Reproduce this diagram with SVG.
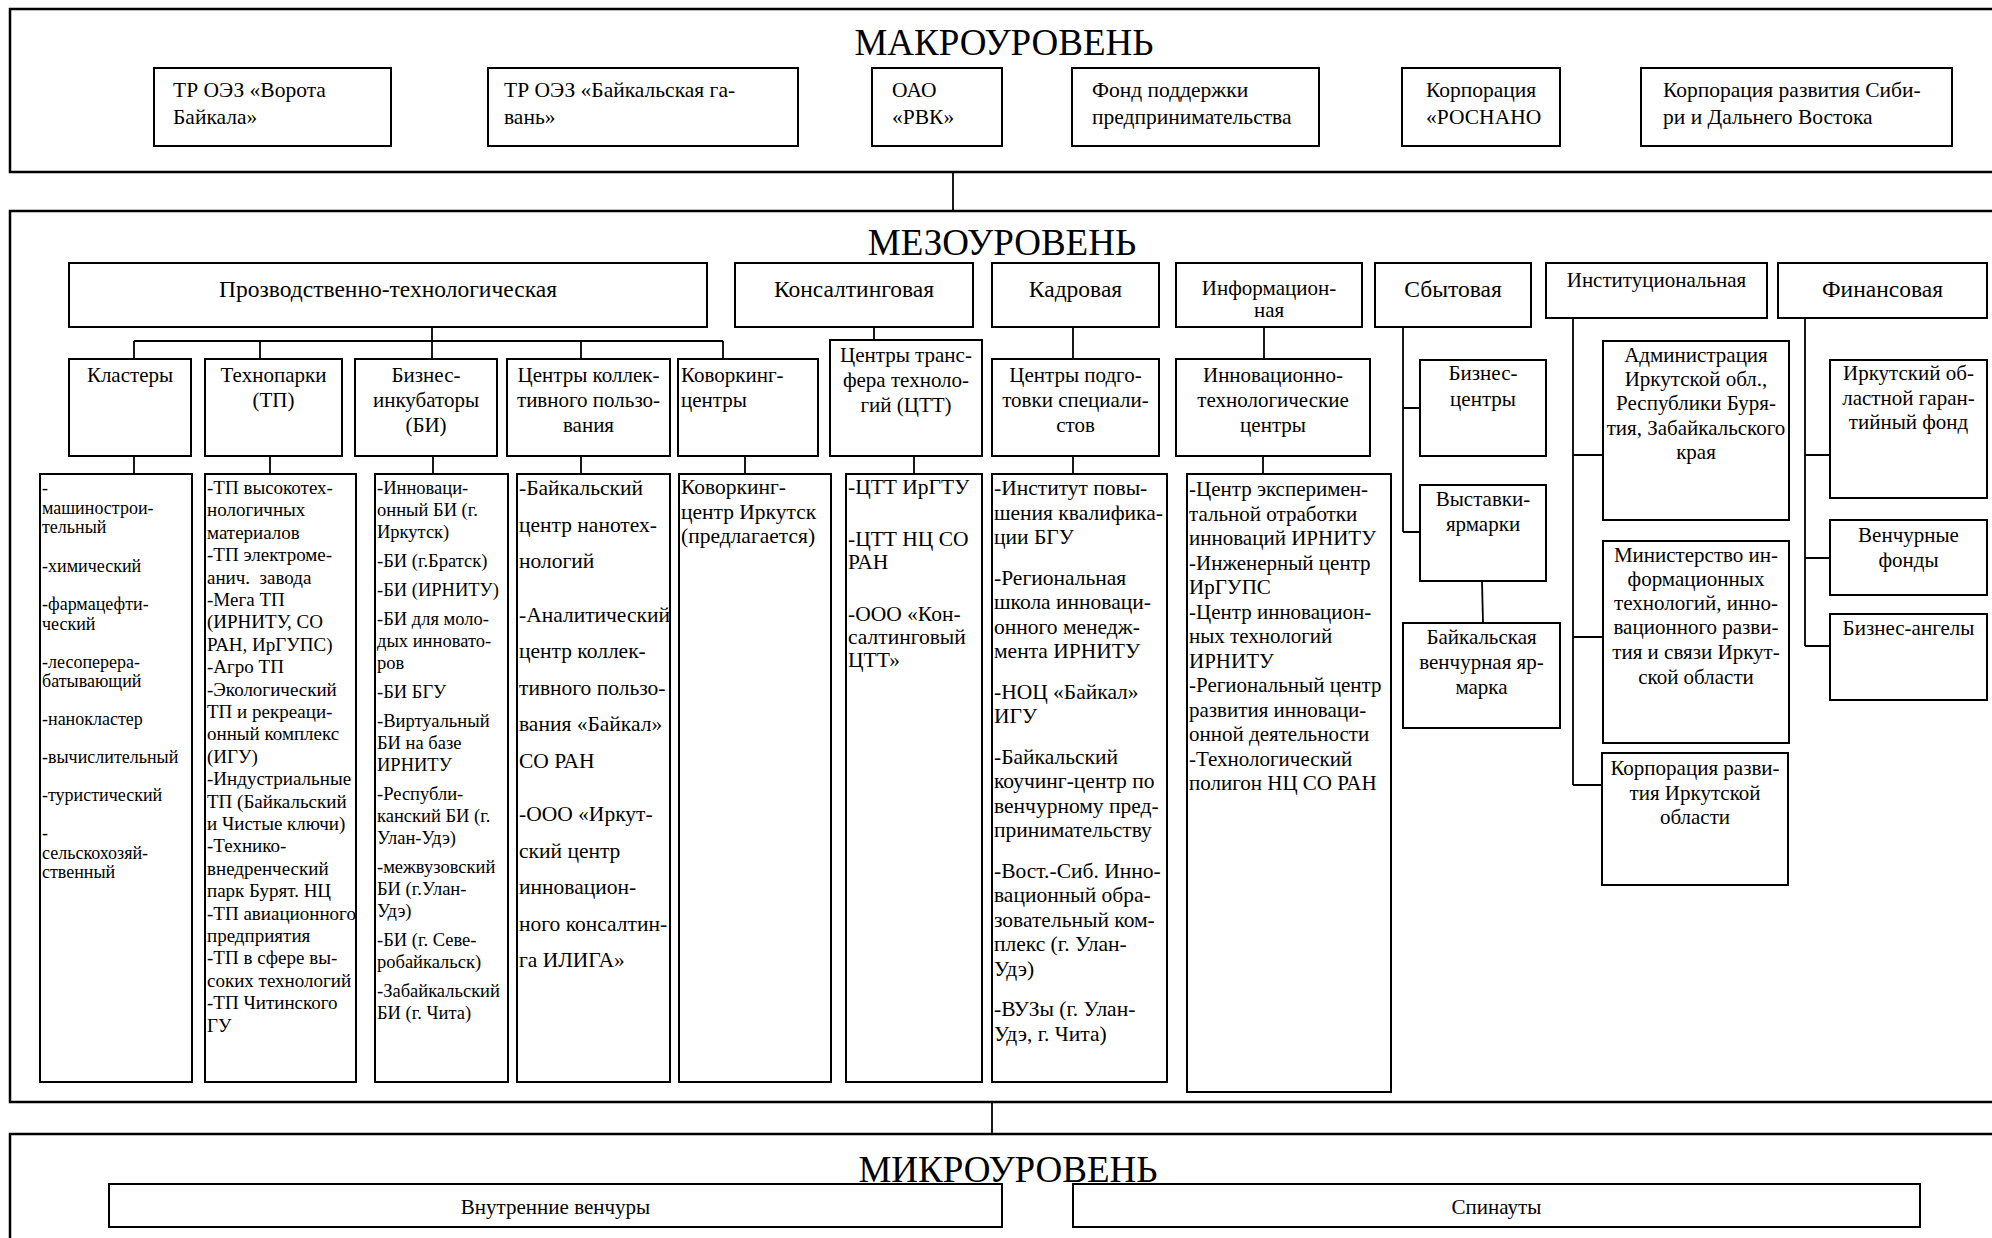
<svg xmlns="http://www.w3.org/2000/svg" width="1992" height="1238" viewBox="0 0 1992 1238">
<style>
rect{fill:none;stroke:#000;stroke-width:2}
.outer{stroke-width:2.5}
.ln{stroke:#000;stroke-width:1.8;fill:none}
text{font-family:"Liberation Serif","Times New Roman",serif;fill:#000}
.t{font-size:37px;text-anchor:middle}
.m{font-size:21.5px}
.c{font-size:23.5px;text-anchor:middle}
.h{font-size:21px;text-anchor:middle}
.hl{font-size:21px}
.l18{font-size:18px}
.l19{font-size:19px}
.l185{font-size:18.5px}
.l21{font-size:21px}
.l215{font-size:21.5px}
.mc{font-size:21px;text-anchor:middle}
</style>
<rect fill="#fff" stroke="none" x="0" y="0" width="1992" height="1238" style="fill:#fff;stroke:none"/>

<g id="connectors">
<path class="ln" d="M953 172V211"/>
<path class="ln" d="M992 1103V1134"/>
<path class="ln" d="M432 327V341M134 341H723M134 341V359M260 341V359M432 341V359M581 341V359M723 341V359"/>
<path class="ln" d="M134 456V474M270 456V474M433 456V474M581 456V474M745 456V474M914 456V474M1073 456V474M1263 456V474"/>
<path class="ln" d="M874 327V340M1073 327V359M1264 327V359"/>
<path class="ln" d="M1403 327V532M1403 408H1420M1403 532H1420M1482 581L1483 623"/>
<path class="ln" d="M1573 318V785M1573 455H1603M1573 637H1603M1573 785H1602"/>
<path class="ln" d="M1805 318V646M1805 455H1830M1805 558H1830M1805 646H1830"/>
</g>

<g id="macro">
<rect class="outer" x="10" y="9" width="1995" height="163"/>
<text class="t" x="1004" y="55">МАКРОУРОВЕНЬ</text>
</g>
<g id="m1"><rect x="154" y="68" width="237" height="78"/><text class="m" x="173" y="97">ТР ОЭЗ «Ворота</text><text class="m" x="173" y="124">Байкала»</text></g>
<g id="m2"><rect x="488" y="68" width="310" height="78"/><text class="m" x="504" y="97">ТР ОЭЗ «Байкальская га-</text><text class="m" x="504" y="124">вань»</text></g>
<g id="m3"><rect x="872" y="68" width="130" height="78"/><text class="m" x="892" y="97">ОАО</text><text class="m" x="892" y="124">«РВК»</text></g>
<g id="m4"><rect x="1072" y="68" width="247" height="78"/><text class="m" x="1092" y="97">Фонд поддержки</text><text class="m" x="1092" y="124">предпринимательства</text></g>
<g id="m5"><rect x="1402" y="68" width="158" height="78"/><text class="m" x="1426" y="97">Корпорация</text><text class="m" x="1426" y="124">«РОСНАНО</text></g>
<g id="m6"><rect x="1641" y="68" width="311" height="78"/><text class="m" x="1663" y="97">Корпорация развития Сиби-</text><text class="m" x="1663" y="124">ри и Дальнего Востока</text></g>

<g id="meso">
<rect class="outer" x="10" y="211" width="1995" height="891"/>
<text class="t" x="1002" y="255">МЕЗОУРОВЕНЬ</text>
</g>
<g id="c1"><rect x="69" y="263" width="638" height="64"/><text class="c" x="388" y="297">Прозводственно-технологическая</text></g>
<g id="c2"><rect x="735" y="263" width="238" height="64"/><text class="c" x="854" y="297">Консалтинговая</text></g>
<g id="c3"><rect x="992" y="263" width="167" height="64"/><text class="c" x="1075.5" y="297">Кадровая</text></g>
<g id="c4"><rect x="1176" y="263" width="186" height="64"/><text class="h" x="1269" y="295">Информацион-</text><text class="h" x="1269" y="317">ная</text></g>
<g id="c5"><rect x="1375" y="263" width="156" height="64"/><text class="c" x="1453" y="297">Сбытовая</text></g>
<g id="c6"><rect x="1546" y="263" width="221" height="55"/><text class="h" x="1656.5" y="287">Институциональная</text></g>
<g id="c7"><rect x="1778" y="263" width="209" height="55"/><text class="c" x="1882.5" y="297">Финансовая</text></g>

<g id="s1"><rect x="69" y="359" width="122" height="97"/><text class="h" x="130" y="382">Кластеры</text></g>
<g id="s2"><rect x="205" y="359" width="137" height="97"/><text class="h" x="273.5" y="382">Технопарки</text><text class="h" x="273.5" y="407">(ТП)</text></g>
<g id="s3"><rect x="355" y="359" width="142" height="97"/><text class="h" x="426" y="382">Бизнес-</text><text class="h" x="426" y="407">инкубаторы</text><text class="h" x="426" y="432">(БИ)</text></g>
<g id="s4"><rect x="507" y="359" width="163" height="97"/><text class="h" x="588.5" y="382">Центры коллек-</text><text class="h" x="588.5" y="407">тивного пользо-</text><text class="h" x="588.5" y="432">вания</text></g>
<g id="s5"><rect x="678" y="359" width="140" height="97"/><text class="hl" x="681" y="382">Коворкинг-</text><text class="hl" x="681" y="407">центры</text></g>
<g id="s6"><rect x="830" y="340" width="152" height="116"/><text class="h" x="906" y="362">Центры транс-</text><text class="h" x="906" y="387">фера техноло-</text><text class="h" x="906" y="412">гий (ЦТТ)</text></g>
<g id="s7"><rect x="992" y="359" width="167" height="97"/><text class="h" x="1075.5" y="382">Центры подго-</text><text class="h" x="1075.5" y="407">товки специали-</text><text class="h" x="1075.5" y="432">стов</text></g>
<g id="s8"><rect x="1176" y="359" width="194" height="97"/><text class="h" x="1273" y="382">Инновационно-</text><text class="h" x="1273" y="407">технологические</text><text class="h" x="1273" y="432">центры</text></g>

<g id="b1"><rect x="1420" y="360" width="126" height="96"/><text class="h" x="1483" y="380">Бизнес-</text><text class="h" x="1483" y="406">центры</text></g>
<g id="b2"><rect x="1420" y="485" width="126" height="96"/><text class="h" x="1483" y="506">Выставки-</text><text class="h" x="1483" y="531">ярмарки</text></g>
<g id="b3"><rect x="1403" y="623" width="157" height="105"/><text class="h" x="1481.5" y="644">Байкальская</text><text class="h" x="1481.5" y="669">венчурная яр-</text><text class="h" x="1481.5" y="694">марка</text></g>

<g id="i1"><rect x="1603" y="341" width="186" height="179"/><text class="h" x="1696" y="362">Администрация</text><text class="h" x="1696" y="386">Иркутской обл.,</text><text class="h" x="1696" y="410">Республики Буря-</text><text class="h" x="1696" y="435">тия, Забайкальского</text><text class="h" x="1696" y="459">края</text></g>
<g id="i2"><rect x="1603" y="541" width="186" height="202"/><text class="h" x="1696" y="562">Министерство ин-</text><text class="h" x="1696" y="586">формационных</text><text class="h" x="1696" y="610">технологий, инно-</text><text class="h" x="1696" y="634">вационного разви-</text><text class="h" x="1696" y="659">тия и связи Иркут-</text><text class="h" x="1696" y="684">ской области</text></g>
<g id="i3"><rect x="1602" y="753" width="186" height="132"/><text class="h" x="1695" y="775">Корпорация разви-</text><text class="h" x="1695" y="800">тия Иркутской</text><text class="h" x="1695" y="824">области</text></g>

<g id="f1"><rect x="1830" y="360" width="157" height="138"/><text class="h" x="1908.5" y="380">Иркутский об-</text><text class="h" x="1908.5" y="405">ластной гаран-</text><text class="h" x="1908.5" y="429">тийный фонд</text></g>
<g id="f2"><rect x="1830" y="520" width="157" height="75"/><text class="h" x="1908.5" y="542">Венчурные</text><text class="h" x="1908.5" y="567">фонды</text></g>
<g id="f3"><rect x="1830" y="614" width="157" height="86"/><text class="h" x="1908.5" y="635">Бизнес-ангелы</text></g>

<g id="l1"><rect x="40" y="474" width="152" height="608"/>
<text class="l18" x="42" y="494">-</text><text class="l18" x="42" y="513.5">машинострои-</text><text class="l18" x="42" y="533">тельный</text><text class="l18" x="42" y="571.5">-химический</text><text class="l18" x="42" y="610">-фармацефти-</text><text class="l18" x="42" y="629.5">ческий</text><text class="l18" x="42" y="667.5">-лесоперера-</text><text class="l18" x="42" y="687">батывающий</text><text class="l18" x="42" y="725">-нанокластер</text><text class="l18" x="42" y="763">-вычислительный</text><text class="l18" x="42" y="801">-туристический</text><text class="l18" x="42" y="839">-</text><text class="l18" x="42" y="858.5">сельскохозяй-</text><text class="l18" x="42" y="878">ственный</text>
</g>
<g id="l2"><rect x="205" y="474" width="151" height="608"/>
<text class="l19" x="207" y="494">-ТП высокотех-</text><text class="l19" x="207" y="516.4">нологичных</text><text class="l19" x="207" y="538.8">материалов</text><text class="l19" x="207" y="561.2">-ТП электроме-</text><text class="l19" x="207" y="583.6">анич.&#160; завода</text><text class="l19" x="207" y="606">-Мега ТП</text><text class="l19" x="207" y="628.4">(ИРНИТУ, СО</text><text class="l19" x="207" y="650.8">РАН, ИрГУПС)</text><text class="l19" x="207" y="673.2">-Агро ТП</text><text class="l19" x="207" y="695.6">-Экологический</text><text class="l19" x="207" y="718">ТП и рекреаци-</text><text class="l19" x="207" y="740.4">онный комплекс</text><text class="l19" x="207" y="762.8">(ИГУ)</text><text class="l19" x="207" y="785.2">-Индустриальные</text><text class="l19" x="207" y="807.6">ТП (Байкальский</text><text class="l19" x="207" y="830">и Чистые ключи)</text><text class="l19" x="207" y="852.4">-Технико-</text><text class="l19" x="207" y="874.8">внедренческий</text><text class="l19" x="207" y="897.2">парк Бурят. НЦ</text><text class="l19" x="207" y="919.6">-ТП авиационного</text><text class="l19" x="207" y="942">предприятия</text><text class="l19" x="207" y="964.4">-ТП в сфере вы-</text><text class="l19" x="207" y="986.8">соких технологий</text><text class="l19" x="207" y="1009.2">-ТП Читинского</text><text class="l19" x="207" y="1031.6">ГУ</text>
</g>
<g id="l3"><rect x="375" y="474" width="133" height="608"/>
<text class="l185" x="377" y="494">-Инноваци-</text><text class="l185" x="377" y="516">онный БИ (г.</text><text class="l185" x="377" y="538">Иркутск)</text><text class="l185" x="377" y="567">-БИ (г.Братск)</text><text class="l185" x="377" y="596">-БИ (ИРНИТУ)</text><text class="l185" x="377" y="625">-БИ для моло-</text><text class="l185" x="377" y="647">дых инновато-</text><text class="l185" x="377" y="669">ров</text><text class="l185" x="377" y="698">-БИ БГУ</text><text class="l185" x="377" y="727">-Виртуальный</text><text class="l185" x="377" y="749">БИ на базе</text><text class="l185" x="377" y="771">ИРНИТУ</text><text class="l185" x="377" y="800">-Республи-</text><text class="l185" x="377" y="822">канский БИ (г.</text><text class="l185" x="377" y="844">Улан-Удэ)</text><text class="l185" x="377" y="873">-межвузовский</text><text class="l185" x="377" y="895">БИ (г.Улан-</text><text class="l185" x="377" y="917">Удэ)</text><text class="l185" x="377" y="946">-БИ (г. Севе-</text><text class="l185" x="377" y="968">робайкальск)</text><text class="l185" x="377" y="997">-Забайкальский</text><text class="l185" x="377" y="1019">БИ (г. Чита)</text>
</g>
<g id="l4"><rect x="517" y="474" width="153" height="608"/>
<text class="l215" x="519" y="495">-Байкальский</text><text class="l215" x="519" y="531.5">центр нанотех-</text><text class="l215" x="519" y="568">нологий</text><text class="l215" x="519" y="621.5">-Аналитический</text><text class="l215" x="519" y="658">центр коллек-</text><text class="l215" x="519" y="694.5">тивного пользо-</text><text class="l215" x="519" y="731">вания «Байкал»</text><text class="l215" x="519" y="767.5">СО РАН</text><text class="l215" x="519" y="821">-ООО «Иркут-</text><text class="l215" x="519" y="857.5">ский центр</text><text class="l215" x="519" y="894">инновацион-</text><text class="l215" x="519" y="930.5">ного консалтин-</text><text class="l215" x="519" y="967">га ИЛИГА»</text>
</g>
<g id="l5"><rect x="679" y="474" width="152" height="608"/>
<text class="l215" x="681" y="494">Коворкинг-</text><text class="l215" x="681" y="518.5">центр Иркутск</text><text class="l215" x="681" y="543">(предлагается)</text>
</g>
<g id="l6"><rect x="846" y="474" width="136" height="608"/>
<text class="l215" x="848" y="494">-ЦТТ ИрГТУ</text><text class="l215" x="848" y="546">-ЦТТ НЦ СО</text><text class="l215" x="848" y="569">РАН</text><text class="l215" x="848" y="621">-ООО «Кон-</text><text class="l215" x="848" y="644">салтинговый</text><text class="l215" x="848" y="667">ЦТТ»</text>
</g>
<g id="l7"><rect x="992" y="474" width="175" height="608"/>
<text class="l215" x="994" y="495">-Институт повы-</text><text class="l215" x="994" y="519.5">шения квалифика-</text><text class="l215" x="994" y="544">ции БГУ</text><text class="l215" x="994" y="584.5">-Региональная</text><text class="l215" x="994" y="609">школа инноваци-</text><text class="l215" x="994" y="633.5">онного менедж-</text><text class="l215" x="994" y="658">мента ИРНИТУ</text><text class="l215" x="994" y="698.5">-НОЦ «Байкал»</text><text class="l215" x="994" y="723">ИГУ</text><text class="l215" x="994" y="763.5">-Байкальский</text><text class="l215" x="994" y="788">коучинг-центр по</text><text class="l215" x="994" y="812.5">венчурному пред-</text><text class="l215" x="994" y="837">принимательству</text><text class="l215" x="994" y="877.5">-Вост.-Сиб. Инно-</text><text class="l215" x="994" y="902">вационный обра-</text><text class="l215" x="994" y="926.5">зовательный ком-</text><text class="l215" x="994" y="951">плекс (г. Улан-</text><text class="l215" x="994" y="975.5">Удэ)</text><text class="l215" x="994" y="1016">-ВУЗы (г. Улан-</text><text class="l215" x="994" y="1040.5">Удэ, г. Чита)</text>
</g>
<g id="l8"><rect x="1187" y="474" width="204" height="618"/>
<text class="l21" x="1189" y="496">-Центр эксперимен-</text><text class="l21" x="1189" y="520.5">тальной отработки</text><text class="l21" x="1189" y="545">инноваций ИРНИТУ</text><text class="l21" x="1189" y="569.5">-Инженерный центр</text><text class="l21" x="1189" y="594">ИрГУПС</text><text class="l21" x="1189" y="618.5">-Центр инновацион-</text><text class="l21" x="1189" y="643">ных технологий</text><text class="l21" x="1189" y="667.5">ИРНИТУ</text><text class="l21" x="1189" y="692">-Региональный центр</text><text class="l21" x="1189" y="716.5">развития инноваци-</text><text class="l21" x="1189" y="741">онной деятельности</text><text class="l21" x="1189" y="765.5">-Технологический</text><text class="l21" x="1189" y="790">полигон НЦ СО РАН</text>
</g>

<g id="micro">
<rect class="outer" x="10" y="1134" width="1995" height="120"/>
<text class="t" x="1008" y="1182">МИКРОУРОВЕНЬ</text>
</g>
<g id="u1"><rect x="109" y="1184" width="893" height="43"/><text class="mc" x="555.5" y="1214">Внутренние венчуры</text></g>
<g id="u2"><rect x="1073" y="1184" width="847" height="43"/><text class="mc" x="1496.5" y="1214">Спинауты</text></g>
</svg>
